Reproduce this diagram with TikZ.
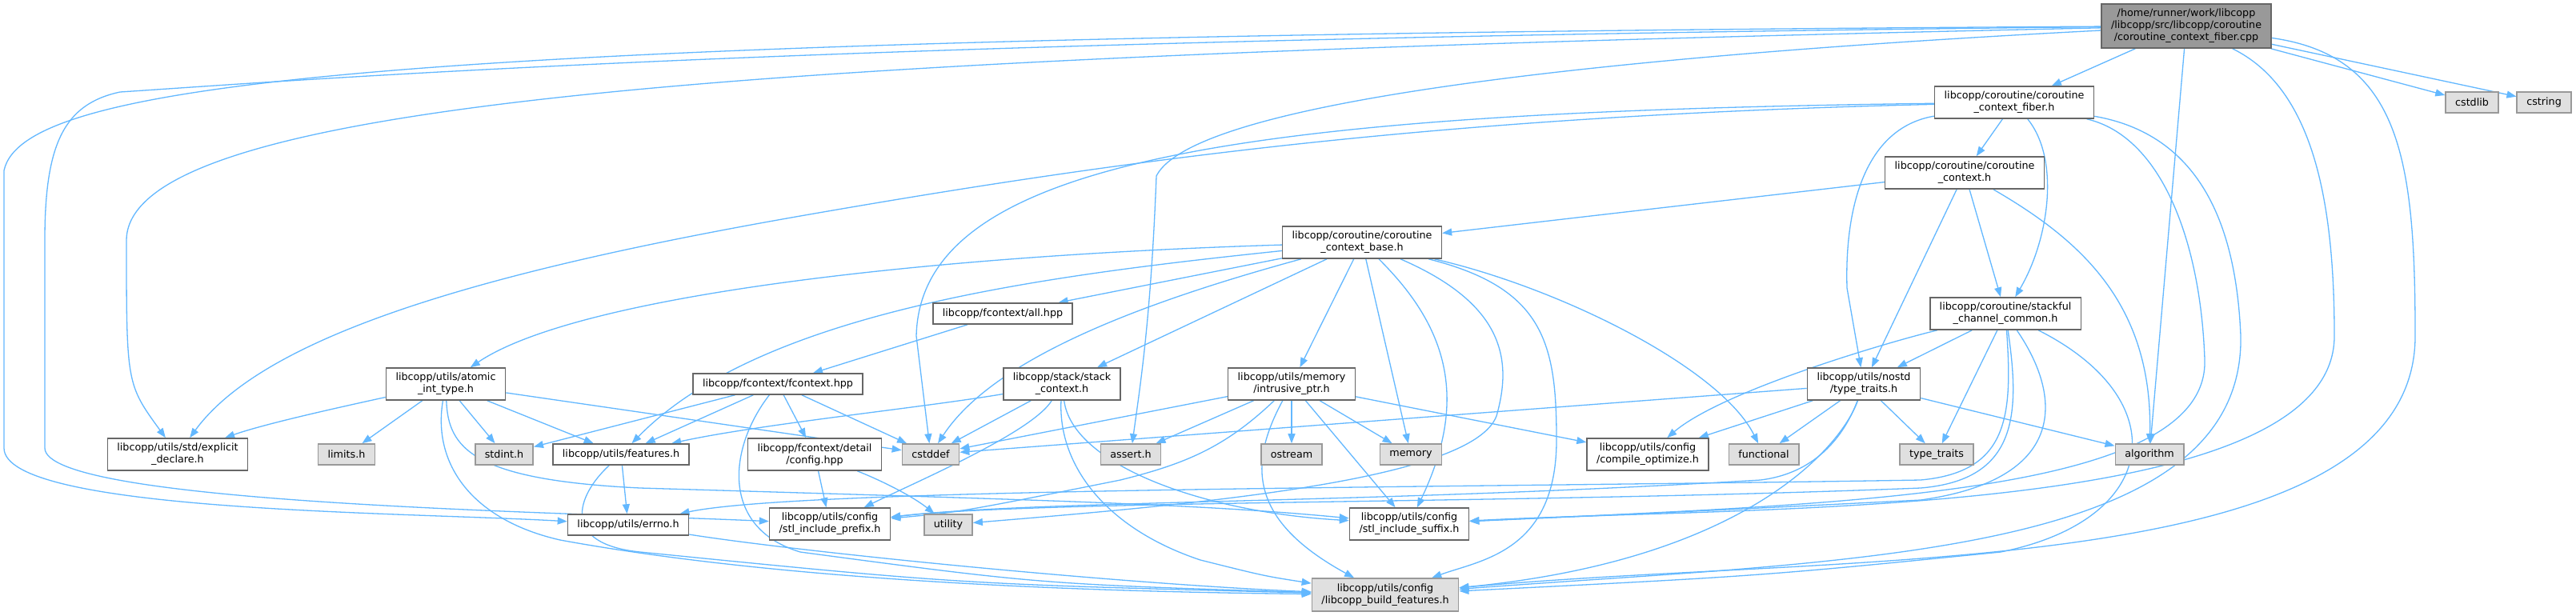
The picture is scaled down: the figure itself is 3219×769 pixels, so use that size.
\documentclass[tikz,border=0pt]{standalone}
\usepackage{fontspec}
\usetikzlibrary{arrows.meta}
\newfontfamily\dxfont{DejaVu Sans}
\definecolor{edgeblue}{HTML}{63B8FF}
\definecolor{boxline}{HTML}{666666}
\definecolor{extline}{HTML}{999999}
\definecolor{extfill}{HTML}{E0E0E0}
\definecolor{rootfill}{HTML}{999999}
\pgfdeclarelayer{edges}
\pgfdeclarelayer{paper}
\pgfsetlayers{paper,edges,main}
\tikzset{
  hdr/.style={draw=boxline, fill=white, line width=0.45pt, inner xsep=0.12cm, inner ysep=0pt,
    minimum height=0.26cm, align=center, font=\dxfont\fontsize{3.62}{4.27}\selectfont},
  hdrtwo/.style={hdr, minimum height=0.40cm},
  sys/.style={hdr, draw=extline, fill=extfill},
  top/.style={hdr, fill=rootfill, minimum height=0.55cm},
  dep/.style={draw=edgeblue, line width=0.37pt, -{Triangle[length=0.12cm,width=0.09cm]}}
}

\begin{document}
\begin{tikzpicture}[x=0.01cm,y=-0.01cm]
\begin{pgfonlayer}{paper}
\useasboundingbox[fill=white] (0,0) rectangle (3219,769);
\end{pgfonlayer}
% files
\node[top] (R) at (2732,32.5) {/home/runner/work/libcopp\\/libcopp/src/libcopp/coroutine\\/coroutine\_context\_fiber.cpp};
\node[sys] (cstdlib) at (3089,128) {cstdlib};
\node[sys] (cstring) at (3179,128) {cstring};
\node[hdrtwo] (F) at (2517,128) {libcopp/coroutine/coroutine\\\_context\_fiber.h};
\node[hdrtwo] (ctx) at (2455,216) {libcopp/coroutine/coroutine\\\_context.h};
\node[hdrtwo] (B) at (1702,303) {libcopp/coroutine/coroutine\\\_context\_base.h};
\node[hdr] (all) at (1253,392) {libcopp/fcontext/all.hpp};
\node[hdrtwo] (S) at (2506,392) {libcopp/coroutine/stackful\\\_channel\_common.h};
\node[hdrtwo] (A) at (557,480) {libcopp/utils/atomic\\\_int\_type.h};
\node[hdr] (FC) at (972,480) {libcopp/fcontext/fcontext.hpp};
\node[hdrtwo] (SC) at (1327,480) {libcopp/stack/stack\\\_context.h};
\node[hdrtwo] (I) at (1614,480) {libcopp/utils/memory\\/intrusive\_ptr.h};
\node[hdrtwo] (N) at (2329,480) {libcopp/utils/nostd\\/type\_traits.h};
\node[hdrtwo] (expl) at (222,568) {libcopp/utils/std/explicit\\\_declare.h};
\node[sys] (limits) at (433,568) {limits.h};
\node[sys] (stdint) at (630,568) {stdint.h};
\node[hdr] (FE) at (776,568) {libcopp/utils/features.h};
\node[hdrtwo] (DC) at (1018,568) {libcopp/fcontext/detail\\/config.hpp};
\node[sys] (cstddef) at (1163,568) {cstddef};
\node[sys] (assert) at (1413,568) {assert.h};
\node[sys] (ostream) at (1614,568) {ostream};
\node[sys] (memory) at (1763,568) {memory};
\node[hdrtwo] (CO) at (2059,568) {libcopp/utils/config\\/compile\_optimize.h};
\node[sys] (functional) at (2204,568) {functional};
\node[sys] (typetraits) at (2420,568) {type\_traits};
\node[sys] (algorithm) at (2686,568) {algorithm};
\node[hdr] (errno) at (785,656) {libcopp/utils/errno.h};
\node[hdrtwo] (prefix) at (1037,655) {libcopp/utils/config\\/stl\_include\_prefix.h};
\node[sys] (utility) at (1185,656) {utility};
\node[hdrtwo] (suffix) at (1761,655) {libcopp/utils/config\\/stl\_include\_suffix.h};
\node[sys, minimum height=0.41cm] (build) at (1731,743.5) {libcopp/utils/config\\/libcopp\_build\_features.h};
\begin{pgfonlayer}{edges}
% root includes
\draw[dep] (R) -- (F);
\draw[dep] (R) -- (cstdlib);
\draw[dep] (R) -- (cstring);
\draw[dep] (R) -- (algorithm);
\draw[dep] (R) .. controls (2890,110) and (2917,250) .. (2917,420) .. controls (2917,650) and (2200,632) .. (suffix);
\draw[dep] (R) .. controls (3000,70) and (3018,200) .. (3018,420) .. controls (3018,730) and (2300,690) .. (build);
\draw[dep] (R) .. controls (2200,60) and (1500,110) .. (1445,220) .. controls (1438,400) and (1425,480) .. (assert);
\draw[dep] (R) .. controls (500,45) and (30,100) .. (5,213) -- (5,560) .. controls (5,640) and (500,640) .. (errno);
\draw[dep] (R) .. controls (1000,50) and (380,100) .. (150,115) .. controls (80,130) and (56,180) .. (56,300) -- (56,560) .. controls (56,630) and (700,640) .. (prefix);
\draw[dep] (R) .. controls (1000,70) and (160,120) .. (158,300) .. controls (158,480) .. (expl);
% coroutine_context_fiber.h
\draw[dep] (F) -- (ctx);
\draw[dep] (F) .. controls (2575,200) and (2560,300) .. (S);
\draw[dep] (F) .. controls (2330,160) and (2305,260) .. (2308,360) -- (N);
\draw[dep] (F) .. controls (1550,140) and (1150,200) .. (1145,420) -- (cstddef);
\draw[dep] (F) .. controls (1800,145) and (1400,200) .. (1000,270) .. controls (600,340) and (330,420) .. (expl);
\draw[dep] (F) .. controls (2700,170) and (2750,300) .. (2755,450) .. controls (2760,620) and (2300,630) .. (suffix);
\draw[dep] (F) .. controls (2760,170) and (2795,300) .. (2800,420) .. controls (2805,700) and (2300,700) .. (build);
% coroutine_context.h
\draw[dep] (ctx) -- (B);
\draw[dep] (ctx) -- (S);
\draw[dep] (ctx) -- (N);
\draw[dep] (ctx) .. controls (2600,300) and (2690,380) .. (algorithm);
% coroutine_context_base.h
\draw[dep] (B) .. controls (1150,320) and (720,370) .. (A);
\draw[dep] (B) -- (all);
\draw[dep] (B) .. controls (1300,345) and (950,390) .. (FE);
\draw[dep] (B) .. controls (1420,380) and (1240,450) .. (cstddef);
\draw[dep] (B) -- (SC);
\draw[dep] (B) -- (I);
\draw[dep] (B) -- (memory);
\draw[dep] (B) .. controls (1950,360) and (2150,460) .. (functional);
\draw[dep] (B) .. controls (1810,410) and (1835,500) .. (suffix);
\draw[dep] (B) .. controls (1880,380) and (1890,450) .. (1870,520) .. controls (1840,600) and (1500,630) .. (utility);
\draw[dep] (B) .. controls (1930,360) and (1945,430) .. (1945,550) .. controls (1945,690) and (1850,700) .. (build);
% fcontext
\draw[dep] (all) -- (FC);
\draw[dep] (FC) -- (stdint);
\draw[dep] (FC) -- (FE);
\draw[dep] (FC) -- (DC);
\draw[dep] (FC) -- (cstddef);
\draw[dep] (FC) .. controls (910,560) and (900,660) .. (1000,690) .. controls (1300,730) .. (build);
\draw[dep] (DC) -- (prefix);
\draw[dep] (DC) .. controls (1100,600) and (1140,620) .. (utility);
% stackful_channel_common.h
\draw[dep] (S) -- (N);
\draw[dep] (S) .. controls (2350,430) and (2150,490) .. (CO);
\draw[dep] (S) -- (typetraits);
\draw[dep] (S) .. controls (2515,520) and (2510,590) .. (2400,600) .. controls (1800,610) and (1000,610) .. (errno);
\draw[dep] (S) .. controls (2525,520) and (2520,600) .. (2400,610) .. controls (1900,630) and (1300,625) .. (prefix);
\draw[dep] (S) .. controls (2580,500) and (2580,600) .. (2400,625) .. controls (2100,640) .. (suffix);
\draw[dep] (S) .. controls (2720,500) and (2700,650) .. (2500,690) .. controls (2200,720) .. (build);
% nostd/type_traits.h
\draw[dep] (N) -- (cstddef);
\draw[dep] (N) -- (CO);
\draw[dep] (N) -- (functional);
\draw[dep] (N) -- (typetraits);
\draw[dep] (N) -- (algorithm);
\draw[dep] (N) .. controls (2310,530) and (2280,590) .. (2200,600) .. controls (1700,630) and (1300,625) .. (prefix);
\draw[dep] (N) .. controls (2300,560) and (2180,700) .. (build);
% stack_context.h
\draw[dep] (SC) .. controls (1150,510) and (950,530) .. (FE);
\draw[dep] (SC) -- (cstddef);
\draw[dep] (SC) .. controls (1290,540) and (1150,600) .. (prefix);
\draw[dep] (SC) .. controls (1322,580) and (1380,660) .. (1500,700) .. controls (1580,720) .. (build);
\draw[dep] (SC) .. controls (1340,580) and (1500,640) .. (suffix);
% intrusive_ptr.h
\draw[dep] (I) -- (cstddef);
\draw[dep] (I) -- (assert);
\draw[dep] (I) -- (ostream);
\draw[dep] (I) -- (memory);
\draw[dep] (I) -- (CO);
\draw[dep] (I) .. controls (1530,560) and (1480,580) .. (1400,600) .. controls (1200,640) .. (prefix);
\draw[dep] (I) .. controls (1560,580) and (1560,650) .. (build);
\draw[dep] (I) -- (suffix);
% atomic_int_type.h
\draw[dep] (A) .. controls (420,510) and (330,530) .. (expl);
\draw[dep] (A) -- (limits);
\draw[dep] (A) -- (stdint);
\draw[dep] (A) -- (FE);
\draw[dep] (A) -- (cstddef);
\draw[dep] (A) .. controls (540,580) and (590,650) .. (700,675) .. controls (1000,730) and (1400,740) .. (build);
\draw[dep] (A) .. controls (560,560) and (590,600) .. (800,610) .. controls (1300,625) and (1500,630) .. (suffix);
% features.h, errno.h
\draw[dep] (FE) -- (errno);
\draw[dep] (FE) .. controls (720,620) and (700,680) .. (800,690) .. controls (1200,730) .. (build);
\draw[dep] (errno) .. controls (1000,690) and (1400,730) .. (build);
\end{pgfonlayer}
\end{tikzpicture}
\end{document}
